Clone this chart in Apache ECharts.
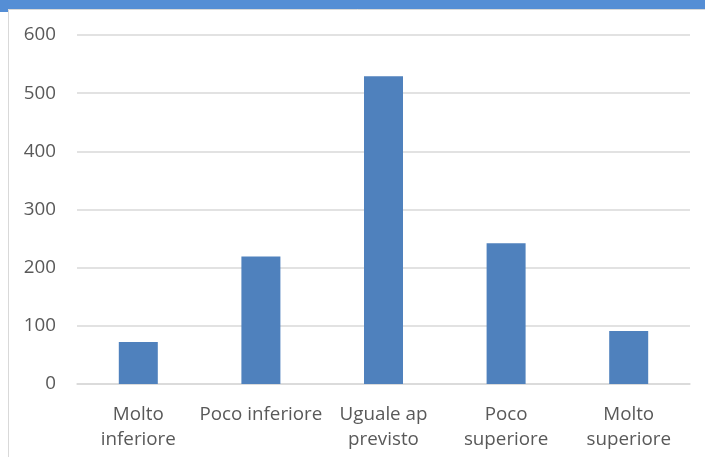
<!DOCTYPE html>
<html>
<head>
<meta charset="utf-8">
<script src="https://cdn.jsdelivr.net/npm/echarts@6/dist/echarts.min.js"></script>
<style>
html,body{margin:0;padding:0;background:#fff;}
#c{width:705px;height:457px;}
</style>
</head>
<body>
<div id="c"></div>
<script>
var categories = ['Molto\ninferiore', 'Poco inferiore', 'Uguale ap\nprevisto', 'Poco\nsuperiore', 'Molto\nsuperiore'];
var values = [72, 219, 529, 242, 91];
var yTicks = { min: 0, max: 600, interval: 100 };

var chart = echarts.init(document.getElementById('c'), null, { renderer: 'canvas' });
chart.setOption({
  animation: false,
  backgroundColor: '#fff',
  textStyle: { fontFamily: 'Open Sans' },
  graphic: [
    { type: 'rect', shape: { x: 0, y: 0, width: 705, height: 9 }, style: { fill: '#558ED5' }, z: 10 },
    { type: 'rect', shape: { x: 0, y: 0, width: 8, height: 12 }, style: { fill: '#558ED5' }, z: 10 },
    { type: 'rect', shape: { x: 8.5, y: 9.5, width: 720, height: 460 }, style: { fill: 'none', stroke: '#D9D9D9', lineWidth: 1 }, z: 9 }
  ],
  grid: { left: 77, right: 15, top: 35, bottom: 73, containLabel: false },
  xAxis: {
    type: 'category',
    data: categories,
    axisLine: { show: true, lineStyle: { color: '#D9D9D9', width: 1.5 } },
    axisTick: { show: false },
    axisLabel: { color: '#595959', fontSize: 18.8, lineHeight: 25, margin: 18, interval: 0, fontFamily: 'Open Sans' }
  },
  yAxis: {
    type: 'value',
    min: yTicks.min, max: yTicks.max, interval: yTicks.interval,
    axisLine: { show: false },
    axisTick: { show: false },
    splitLine: { lineStyle: { color: '#D9D9D9', width: 1.5 } },
    axisLabel: { color: '#595959', fontSize: 18.8, margin: 21, fontFamily: 'Open Sans' }
  },
  series: [{
    type: 'bar',
    data: values,
    barWidth: 39,
    itemStyle: { color: '#4F81BD' }
  }]
});
</script>
</body>
</html>
